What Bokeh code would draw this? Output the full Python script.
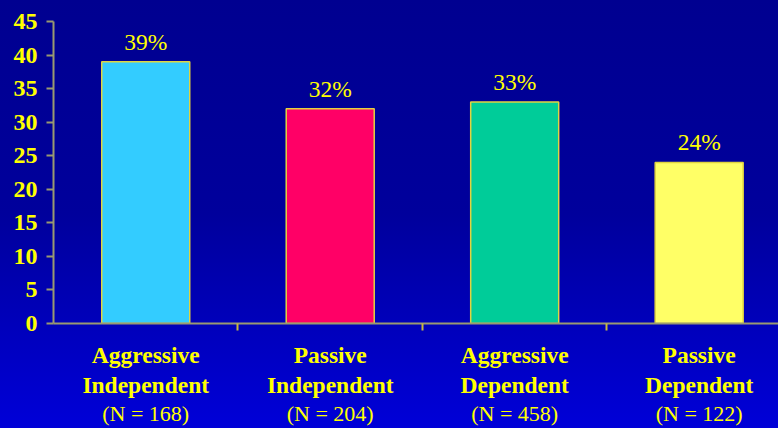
from bokeh.plotting import figure
from bokeh.models import ColumnDataSource, FixedTicker, LinearAxis, Range1d
from bokeh.embed import file_html
from bokeh.resources import INLINE
from bokeh.core.properties import value

# ---- data ----
categories_top = ["Aggressive\nIndependent", "Passive\nIndependent", "Aggressive\nDependent", "Passive\nDependent"]
categories_n = ["(N = 168)", "(N = 204)", "(N = 458)", "(N = 122)"]
percent = [39, 32, 33, 24]
bar_colors = ["#33ccff", "#ff0066", "#00cc99", "#ffff66"]
y_ticks = [0, 5, 10, 15, 20, 25, 30, 35, 40, 45]

x_pos = [i + 0.5 for i in range(len(percent))]
labels = [f"{v}%" for v in percent]

src = ColumnDataSource(dict(x=x_pos, top=percent, color=bar_colors, label=labels))

p = figure(width=778, height=428, output_backend="svg", toolbar_location=None,
           x_range=Range1d(0, 3.93), y_range=Range1d(0, 45),
           min_border_left=53, min_border_right=0, min_border_top=21, min_border_bottom=105,
           x_axis_location=None, y_axis_location=None)

p.styles = {"background": "linear-gradient(to bottom, #000090 0%, #00009c 50%, #0000d8 100%)"}
p.background_fill_alpha = 0
p.border_fill_alpha = 0
p.outline_line_color = None
p.xgrid.visible = False
p.ygrid.visible = False

p.vbar(x="x", top="top", width=0.477, bottom=0, fill_color="color",
       line_color="#e0d440", line_width=1.5, source=src)

p.text(x="x", y="top", text="label", source=src, text_align="center", text_baseline="bottom",
       y_offset=-7, text_color="#ffff00", text_font=value("Liberation Serif"), text_font_size="23.5px")

# y axis
yax = LinearAxis(ticker=FixedTicker(ticks=y_ticks, minor_ticks=[]))
yax.axis_line_color = "#9a9a70"
yax.axis_line_width = 2
yax.major_tick_line_color = "#9a9a70"
yax.major_tick_line_width = 2
yax.major_tick_in = 0
yax.major_tick_out = 7
yax.minor_tick_line_color = None
yax.major_label_standoff = 9
yax.major_label_text_color = "#ffff00"
yax.major_label_text_font = "Liberation Serif"
yax.major_label_text_font_style = "bold"
yax.major_label_text_font_size = "24px"
p.add_layout(yax, "left")

# x axis (bold category names)
xax = LinearAxis(ticker=FixedTicker(ticks=x_pos, minor_ticks=[1, 2, 3]))
xax.major_label_overrides = {x: t for x, t in zip(x_pos, categories_top)}
xax.axis_line_color = "#9a9a70"
xax.axis_line_width = 2
xax.major_tick_line_color = None
xax.major_tick_in = 0
xax.major_tick_out = 7
xax.minor_tick_line_color = "#c8b840"
xax.minor_tick_line_width = 2
xax.minor_tick_in = 0
xax.minor_tick_out = 7
xax.major_label_standoff = 11
xax.major_label_text_color = "#ffff00"
xax.major_label_text_font = "Liberation Serif"
xax.major_label_text_font_style = "bold"
xax.major_label_text_font_size = "23.5px"
xax.major_label_text_line_height = 1.17
p.add_layout(xax, "below")

# second x axis (N counts)
xax2 = LinearAxis(ticker=FixedTicker(ticks=x_pos, minor_ticks=[]))
xax2.major_label_overrides = {x: t for x, t in zip(x_pos, categories_n)}
xax2.axis_line_color = None
xax2.major_tick_line_color = None
xax2.minor_tick_line_color = None
xax2.major_tick_in = 0
xax2.major_tick_out = 0
xax2.major_label_standoff = 0
xax2.major_label_text_color = "#ffff00"
xax2.major_label_text_font = "Liberation Serif"
xax2.major_label_text_font_size = "22px"
p.add_layout(xax2, "below")

open("out.html", "w").write(file_html(p, INLINE))
